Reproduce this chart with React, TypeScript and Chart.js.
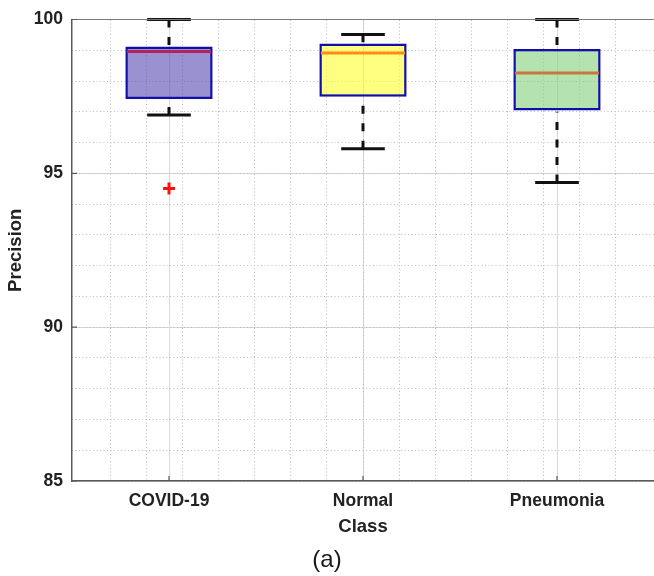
import React, { useEffect, useRef } from 'react';
import { Chart, registerables } from 'chart.js';

Chart.register(...registerables);

// ---- data ----
const categories = ['COVID-19', 'Normal', 'Pneumonia'];
const whiskerLow = [96.9, 95.8, 94.7];
const q1 = [97.42, 97.49, 97.04];
const median = [98.96, 98.91, 98.26];
const q3 = [99.12, 99.22, 99.04];
const whiskerHigh = [100, 99.51, 100];
const outlierCategory = [1];
const outlierValue = [94.51];
const yMin = 85;
const yMax = 100;
const yMajorStep = 5;
const yMinorStep = 1;
const xMinorStep = 0.2;

// ---- styles ----
const boxFill = ['rgba(87,72,177,0.6)', 'rgba(255,255,43,0.6)', 'rgba(132,208,123,0.6)'];
const medianColor = ['#b0245c', '#ff8a1a', '#c8763c'];
const boxBorder = 'rgb(16,16,168)';
const FONT = '"Liberation Sans", Arial, Helvetica, sans-serif';

const boxWhiskerPlugin = {
  id: 'boxWhisker',
  afterDatasetsDraw(chart: any) {
    const xs = chart.scales.x;
    const ys = chart.scales.y;
    const ctx = chart.ctx;
    const meta = chart.getDatasetMeta(0);
    ctx.save();
    categories.forEach((_, i) => {
      const bar = meta.data[i];
      const w = bar ? bar.width : 80;
      const cx = xs.getPixelForValue(i + 1);
      const yLo = ys.getPixelForValue(whiskerLow[i]);
      const yHi = ys.getPixelForValue(whiskerHigh[i]);
      const yQ1 = ys.getPixelForValue(q1[i]);
      const yQ3 = ys.getPixelForValue(q3[i]);
      const yMed = ys.getPixelForValue(median[i]);
      // dashed whiskers (from cap toward box)
      ctx.strokeStyle = '#111';
      ctx.lineWidth = 3;
      ctx.setLineDash([8, 9.5]);
      ctx.beginPath();
      ctx.moveTo(cx, yHi);
      ctx.lineTo(cx, yQ3 - 1.25);
      ctx.moveTo(cx, yLo);
      ctx.lineTo(cx, yQ1 + 1.25);
      ctx.stroke();
      // caps
      ctx.setLineDash([]);
      const hw = w * 0.25;
      ctx.beginPath();
      ctx.moveTo(cx - hw, yHi);
      ctx.lineTo(cx + hw, yHi);
      ctx.moveTo(cx - hw, yLo);
      ctx.lineTo(cx + hw, yLo);
      ctx.stroke();
      // median
      ctx.strokeStyle = medianColor[i];
      ctx.lineWidth = 3;
      ctx.beginPath();
      ctx.moveTo(cx - w / 2 + 1.5, yMed);
      ctx.lineTo(cx + w / 2 - 1.5, yMed);
      ctx.stroke();
    });
    ctx.restore();
  },
  afterDraw(chart: any) {
    // inward tick marks (MATLAB style)
    const xs = chart.scales.x;
    const ys = chart.scales.y;
    const ctx = chart.ctx;
    const area = chart.chartArea;
    ctx.save();
    ctx.strokeStyle = '#5a5a5a';
    ctx.lineWidth = 1.2;
    ctx.beginPath();
    xs.ticks.forEach((t: any) => {
      const px = xs.getPixelForValue(t.value);
      ctx.moveTo(px, area.bottom);
      ctx.lineTo(px, area.bottom - 5);
    });
    ys.ticks.forEach((t: any) => {
      const py = ys.getPixelForValue(t.value);
      ctx.moveTo(area.left, py);
      ctx.lineTo(area.left + 5, py);
    });
    ctx.stroke();
    ctx.restore();
  },
};

export default function App() {
  const ref = useRef<HTMLCanvasElement | null>(null);

  useEffect(() => {
    document.body.style.margin = '0';
    if (!ref.current) return;
    const chart = new Chart(ref.current, {
      type: 'bar',
      data: {
        datasets: [
          {
            type: 'bar',
            data: categories.map((_, i) => ({ x: i + 1, y: [q1[i], q3[i]] })) as any,
            backgroundColor: boxFill,
            borderColor: boxBorder,
            borderWidth: 2.5,
            borderSkipped: false,
            barPercentage: 0.45,
            categoryPercentage: 1,
            xAxisID: 'x',
            yAxisID: 'y',
          } as any,
          {
            type: 'scatter',
            data: outlierCategory.map((c, i) => ({ x: c, y: outlierValue[i] })),
            pointStyle: 'cross',
            radius: 6,
            borderWidth: 3,
            borderColor: '#ff1010',
            backgroundColor: '#ff1010',
            showLine: false,
            xAxisID: 'x',
            yAxisID: 'y',
          } as any,
        ],
      },
      options: {
        animation: false,
        responsive: false,
        maintainAspectRatio: false,
        layout: { padding: 0, autoPadding: false },
        plugins: {
          legend: { display: false },
          tooltip: { enabled: false },
          title: {
            display: true,
            text: '(a)',
            position: 'bottom',
            color: '#1a1a1a',
            font: { family: FONT, size: 24, weight: 'normal', lineHeight: 1.2 },
            padding: { top: 0, bottom: 1 },
          },
        },
        scales: {
          x: {
            type: 'linear',
            position: 'bottom',
            min: 0.5,
            max: 3.5,
            offset: false,
            afterBuildTicks: (scale: any) => {
              scale.ticks = categories.map((_, i) => ({ value: i + 1 }));
            },
            afterFit: (scale: any) => {
              scale.height = 65.2;
            },
            ticks: {
              callback: (v: any) => categories[Math.round(Number(v)) - 1] ?? '',
              color: '#222222',
              font: { family: FONT, size: 17.5, weight: 'bold', lineHeight: 1.2 },
              padding: 9.5,
              maxRotation: 0,
              autoSkip: false,
            },
            grid: { color: '#d9d9d9', lineWidth: 1, drawTicks: false, offset: false },
            border: { display: true, color: '#5a5a5a', width: 1.5, z: 1 },
            title: {
              display: true,
              text: 'Class',
              color: '#222222',
              font: { family: FONT, size: 18.5, weight: 'bold', lineHeight: 1.2 },
              padding: { top: 0, bottom: 8.6 },
            },
          },
          xMinor: {
            type: 'linear',
            position: 'top',
            min: 0.5,
            max: 3.5,
            afterBuildTicks: (scale: any) => {
              const t: any[] = [];
              for (let k = 1; 0.5 + k * xMinorStep < 3.5 - 1e-6; k++) {
                t.push({ value: Math.round((0.5 + k * xMinorStep) * 100) / 100 });
              }
              scale.ticks = t;
            },
            afterFit: (scale: any) => {
              scale.height = 18.7;
            },
            ticks: { display: false },
            grid: { color: '#bdbdbd', lineWidth: 1, drawTicks: false },
            border: { display: true, color: '#7a7a7a', width: 1, dash: [1, 2.5], z: 1 },
          },
          y: {
            type: 'linear',
            position: 'left',
            min: yMin,
            max: yMax,
            afterFit: (scale: any) => {
              scale.width = 72;
            },
            ticks: {
              stepSize: yMajorStep,
              color: '#222222',
              font: { family: FONT, size: 17.5, weight: 'bold', lineHeight: 1.2 },
              padding: 9,
            },
            grid: { color: '#d9d9d9', lineWidth: 1, drawTicks: false },
            border: { display: true, color: '#5a5a5a', width: 1.5, z: 1 },
            title: {
              display: true,
              text: 'Precision',
              color: '#222222',
              font: { family: FONT, size: 18.5, weight: 'bold', lineHeight: 1.2 },
              padding: { top: 5, bottom: 0 },
            },
          },
          yMinor: {
            type: 'linear',
            position: 'right',
            min: yMin,
            max: yMax,
            afterFit: (scale: any) => {
              scale.width = 0;
            },
            ticks: { display: false, stepSize: yMinorStep },
            grid: { color: '#bdbdbd', lineWidth: 1, drawTicks: false },
            border: { display: false, dash: [1, 2.5] },
          },
        },
      } as any,
      plugins: [boxWhiskerPlugin],
    });
    return () => chart.destroy();
  }, []);

  return (
    <div style={{ width: 654, height: 576 }}>
      <canvas ref={ref} width={654} height={576} style={{ display: 'block' }} />
    </div>
  );
}
